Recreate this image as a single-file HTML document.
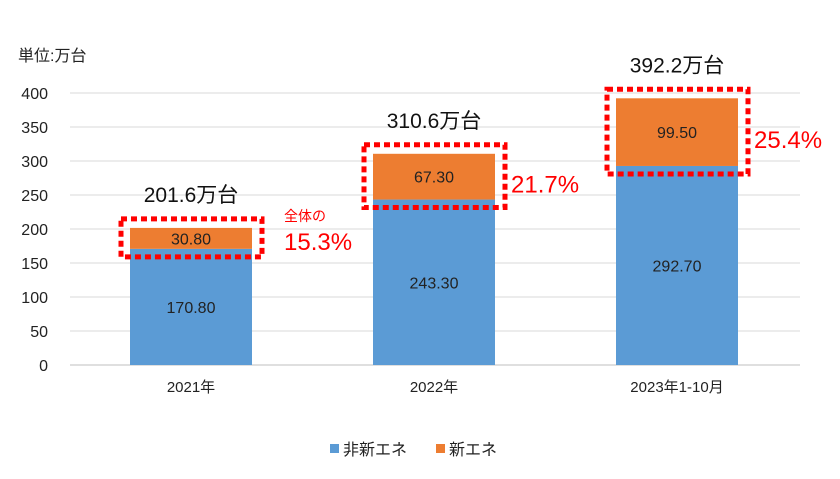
<!DOCTYPE html>
<html><head><meta charset="utf-8">
<style>
body{margin:0;background:#fff;}
svg{display:block;font-family:"Liberation Sans","Noto Sans CJK JP",sans-serif;}
</style></head>
<body>
<svg id="chart" width="840" height="479" viewBox="0 0 840 479">
<text x="18" y="61" font-size="16" fill="#222">単位:万台</text>
<g id="grid"></g><g id="bars"></g><g id="ann"></g>
<g>
<rect x="330" y="444" width="9" height="9" fill="#5b9bd5"/>
<text x="343" y="455" font-size="16" fill="#222">非新エネ</text>
<rect x="436" y="444" width="9" height="9" fill="#ed7d31"/>
<text x="449" y="455" font-size="16" fill="#222">新エネ</text>
</g>
</svg>
<script>
const categories=["2021年","2022年","2023年1-10月"];
const nonNev=[170.80,243.30,292.70];
const nev=[30.80,67.30,99.50];
const totals=["201.6万台","310.6万台","392.2万台"];
const shares=["15.3%","21.7%","25.4%"];
const yTicks=[0,50,100,150,200,250,300,350,400];
const NS="http://www.w3.org/2000/svg";
const y=v=>365-v*0.68;
const cx=i=>191+i*243;
const bw=122;
function mk(tag,attrs,parent,txt){const e=document.createElementNS(NS,tag);for(const k in attrs)e.setAttribute(k,attrs[k]);if(txt!==undefined)e.textContent=txt;parent.appendChild(e);return e;}
const grid=document.getElementById('grid'),bars=document.getElementById('bars'),ann=document.getElementById('ann');
yTicks.forEach(t=>{
 const l=mk('line',{x1:70,x2:800,y1:y(t),y2:y(t),stroke:t===0?'#bfbfbf':'#d9d9d9','stroke-width':1},grid);
 
 
 const tx=mk('text',{x:48,y:y(t)+6,'font-size':16,fill:'#222','text-anchor':'end'},grid,String(t));
 
 
});
categories.forEach((c,i)=>{
 const x0=cx(i)-bw/2;
 const b=mk('rect',{x:x0,y:y(nonNev[i]),width:bw,height:y(0)-y(nonNev[i]),fill:'#5b9bd5'},bars);
 
 
 const t=nonNev[i]+nev[i];
 const o=mk('rect',{x:x0,y:y(t),width:bw,height:y(nonNev[i])-y(t),fill:'#ed7d31'},bars);
 
 
 const l1=mk('text',{x:cx(i),y:(y(nonNev[i])+y(0))/2+6,'font-size':16,fill:'#222','text-anchor':'middle'},bars,nonNev[i].toFixed(2));
 
 
 const l2=mk('text',{x:cx(i),y:(y(nonNev[i])+y(t))/2+6,'font-size':16,fill:'#222','text-anchor':'middle'},bars,nev[i].toFixed(2));
 
 
 const cl=mk('text',{x:cx(i),y:392,'font-size':15,fill:'#222','text-anchor':'middle'},bars,c);
 
 
 const tl=mk('text',{x:cx(i),y:y(t)-26,'font-size':21,fill:'#111','text-anchor':'middle'},ann,totals[i]);
 
 
 const box=mk('rect',{x:x0-9,y:y(t)-9,width:bw+19,height:y(nonNev[i])-y(t)+17,fill:'none',stroke:'#ff0000','stroke-width':5,'stroke-dasharray':'6 4'},ann);
 
 
 const sy=i===0?y(t)+22:(y(t)+y(nonNev[i]))/2+16;
 const sx=i===0?x0+bw+32:x0+bw+16;
 const sl=mk('text',{x:sx,y:sy,'font-size':24,fill:'#ff0000'},ann,shares[i]);
 
 
 if(i===0){
  const s=mk('text',{x:x0+bw+32,y:y(t)-7,'font-size':14,fill:'#ff0000'},ann,'全体の');
  
  
 }
});
</script>
</body></html>
